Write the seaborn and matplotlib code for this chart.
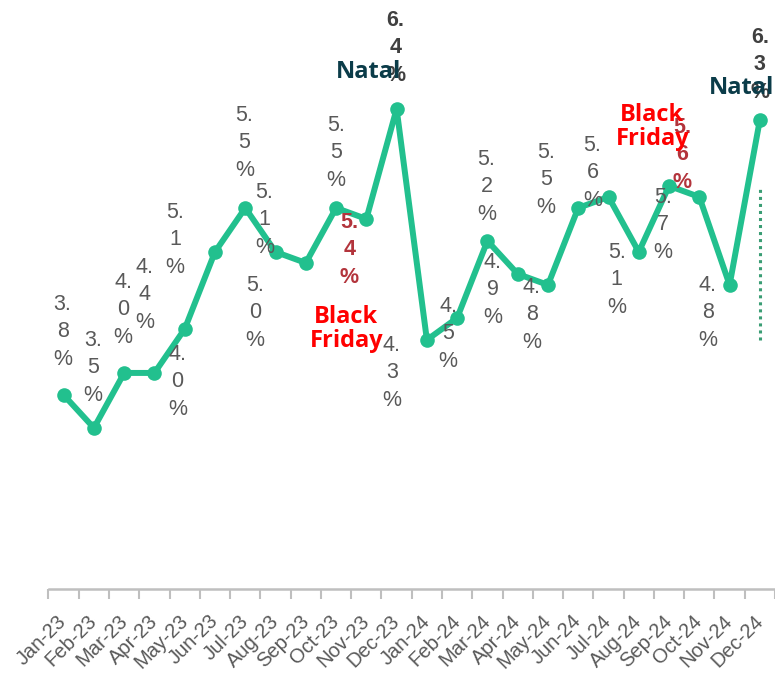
import numpy as np
import pandas as pd
import matplotlib.pyplot as plt
import seaborn as sns

# monthly share (%)
months = ["Jan-23", "Feb-23", "Mar-23", "Apr-23", "May-23", "Jun-23", "Jul-23", "Aug-23",
          "Sep-23", "Oct-23", "Nov-23", "Dec-23", "Jan-24", "Feb-24", "Mar-24", "Apr-24",
          "May-24", "Jun-24", "Jul-24", "Aug-24", "Sep-24", "Oct-24", "Nov-24", "Dec-24"]
share = [3.8, 3.5, 4.0, 4.0, 4.4, 5.1, 5.5, 5.1, 5.0, 5.5, 5.4, 6.4,
         4.3, 4.5, 5.2, 4.9, 4.8, 5.5, 5.6, 5.1, 5.7, 5.6, 4.8, 6.3]
black_friday = ["Nov-23", "Oct-24"]
natal = ["Dec-23", "Dec-24"]
natal_band = [4.3, 5.7]

# where each value label sits relative to its point (pixels, up is positive)
label_dx = [-1, -1, -1, 23, -40, -40, -1, -11, -51, 0, -17, -1,
            -35, -9, -1, -25, -16, -32, -16, -22, -6, -17, -22, 0]
label_dy = [63, 60, 63, -9, 34, 12, 65, 32, -50, 55, -31, 61,
            -33, -16, 54, -16, -30, 28, 24, -28, -39, 42, -28, 55]

df = pd.DataFrame({"pos": np.arange(len(months)), "month": months, "share": share})

sns.set_style("white")
plt.rcParams["font.family"] = ["Liberation Sans", "DejaVu Sans"]

fig = plt.figure(figsize=(7.75, 6.76), dpi=100)
ax = fig.add_axes([48.5 / 775, 87 / 676, 726.5 / 775, 589 / 676])

green = "#22c08e"
sns.lineplot(data=df, x="pos", y="share", ax=ax, color=green, linewidth=4.3,
             marker="o", markersize=10.5, markeredgewidth=0)

# dotted marker next to the last point
last = len(months) - 1
ax.vlines(last, natal_band[0], natal_band[1], color="#3a9d74", linewidth=2.2,
          linestyle=(0, (1, 1.3)))

# value labels, one character per line
for i, (m, v) in enumerate(zip(months, share)):
    txt = "\n".join([f"{v:.1f}"[:2], f"{v:.1f}"[2:], "%"])
    if m in natal:
        color, weight = "#404040", "bold"
    elif m in black_friday:
        color, weight = "#b3343c", "bold"
    else:
        color, weight = "#595959", "normal"
    ax.annotate(txt, xy=(i, v), xytext=(label_dx[i], label_dy[i]),
                textcoords="offset pixels", ha="center", va="center",
                fontsize=15.5, color=color, fontweight=weight, linespacing=1.4)

# event annotations
events = [("Natal", "Dec-23", -28, 37, "#0b3c49"),
          ("Natal", "Dec-24", -18, 32, "#0b3c49"),
          ("Black\nFriday", "Nov-23", -20, -110, "#ff0000"),
          ("Black\nFriday", "Oct-24", -47, 70, "#ff0000")]
for text, m, dx, dy, c in events:
    i = months.index(m)
    ax.annotate(text, xy=(i, share[i]), xytext=(dx, dy), textcoords="offset pixels",
                ha="center", va="center", fontsize=17, fontweight="bold", color=c,
                family=["Open Sans", "DejaVu Sans"], linespacing=1.0)

ax.set_xlim(-0.5, len(months) - 0.5)
ax.set_ylim(2.036, 7.39)
ax.set_xlabel("")
ax.set_ylabel("")
ax.set_yticks([])
ax.set_xticks(df["pos"], months)
ax.set_xticks(np.arange(-0.5, len(months)), minor=True)
ax.tick_params(axis="x", which="both", bottom=True)
ax.tick_params(axis="x", which="major", length=0, pad=21, labelsize=14.5, labelcolor="#595959")
ax.tick_params(axis="x", which="minor", length=7.5, width=1.5, color="#bfbfbf", direction="out")
for lab in ax.get_xticklabels():
    lab.set_rotation(45)
    lab.set_ha("right")
    lab.set_va("center")
    lab.set_rotation_mode("anchor")

for s in ["left", "top", "right"]:
    ax.spines[s].set_visible(False)
ax.spines["bottom"].set_color("#bfbfbf")
ax.spines["bottom"].set_linewidth(1.8)

fig.savefig("out.png", dpi=100)
